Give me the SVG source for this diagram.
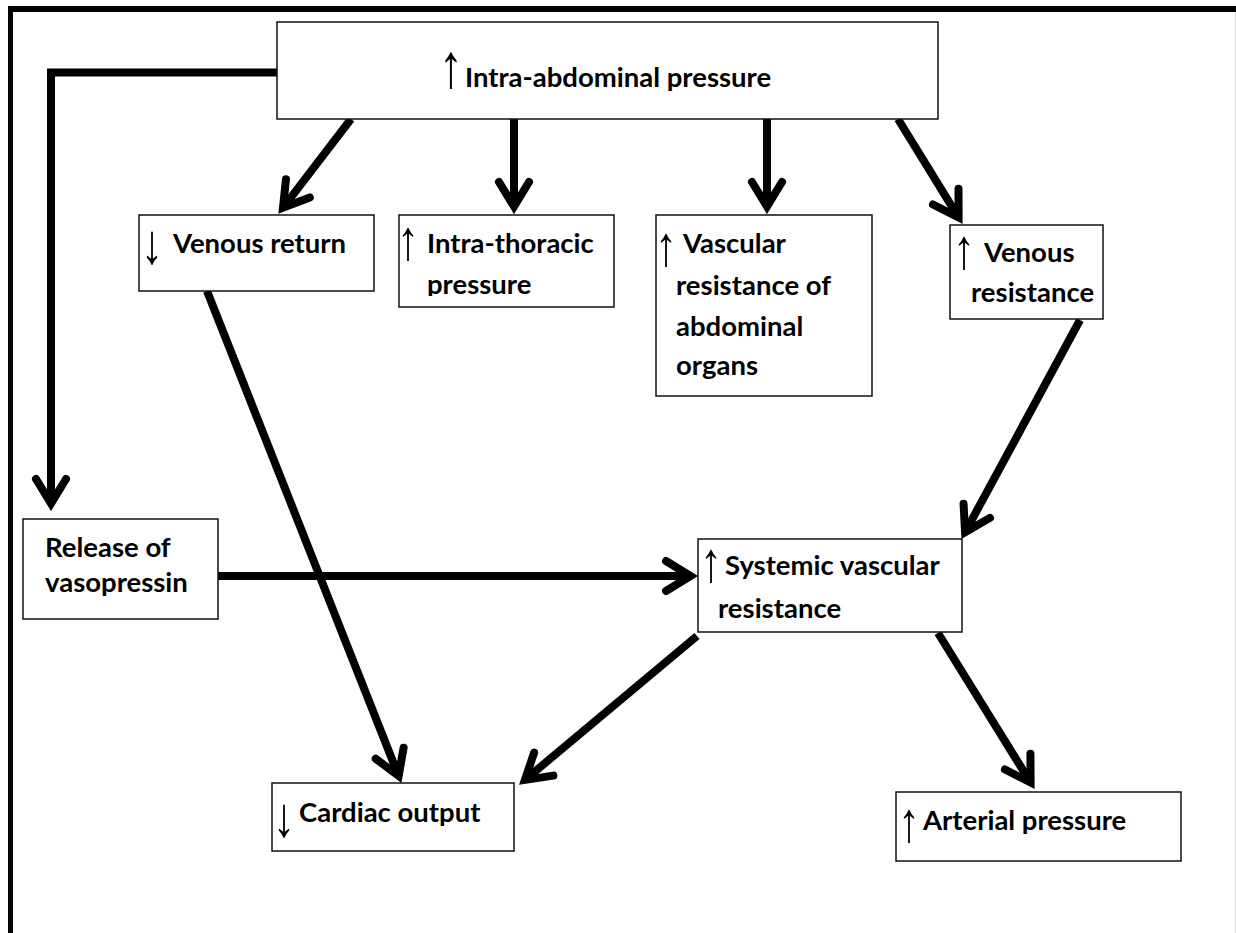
<svg xmlns="http://www.w3.org/2000/svg" width="1236" height="933" viewBox="0 0 1236 933">
<style>
.box{fill:#fff;stroke:#111;stroke-width:1.5}
.t{font-family:Lato,"Liberation Sans",sans-serif;font-weight:bold;font-size:27.5px;fill:#000}
.s{font-family:"Liberation Sans","DejaVu Sans",sans-serif;font-weight:normal;font-size:40px;fill:#000}
.c{fill:none;stroke:#000;stroke-width:8;marker-end:url(#ah)}
</style>
<defs>
<marker id="ah" markerUnits="userSpaceOnUse" orient="auto" overflow="visible" refX="0" refY="0" markerWidth="1" markerHeight="1">
<path d="M -23 -15 L 1.5 0 L -23 15" fill="none" stroke="#000" stroke-width="8" stroke-linecap="round" stroke-linejoin="miter" stroke-miterlimit="10"/>
</marker>
<clipPath id="clipIT"><rect x="399" y="215" width="216" height="81"/></clipPath>
</defs>
<rect x="0" y="0" width="1236" height="933" fill="#fff"/>
<g id="frame">
<rect x="8" y="6" width="1228" height="6" fill="#000"/>
<rect x="8" y="6" width="5" height="927" fill="#000"/>
<rect x="1235" y="12" width="1" height="921" fill="#d8d8d8"/>
</g>
<g id="connectors">
<polyline class="c" points="277,72.5 51,72.5 51,502" stroke-linejoin="miter"/>
<line class="c" x1="351" y1="119" x2="283.9" y2="206.6"/>
<line class="c" x1="514" y1="119" x2="514" y2="205"/>
<line class="c" x1="767" y1="119" x2="767" y2="205"/>
<line class="c" x1="898" y1="119" x2="957.8" y2="216.2"/>
<line class="c" x1="207" y1="291" x2="398.1" y2="774.6"/>
<line class="c" x1="218" y1="576" x2="689" y2="576"/>
<line class="c" x1="1080" y1="320" x2="965.8" y2="531"/>
<line class="c" x1="697" y1="636" x2="526.1" y2="778.9"/>
<line class="c" x1="938" y1="633" x2="1029.8" y2="781.2"/>
</g>
<g id="n-iap">
<rect class="box" x="277" y="22" width="661" height="97"/>
<text class="s" transform="translate(439,87) scale(1.2,1.55)">↑</text>
<text class="t" x="465" y="87" font-size="28.5">Intra-abdominal pressure</text>
</g>
<g id="n-vr">
<rect class="box" x="139" y="215" width="235" height="76"/>
<text class="s" transform="translate(141,263) scale(1.1,1.4)">↓</text>
<text class="t" x="173" y="253">Venous return</text>
</g>
<g id="n-itp">
<rect class="box" x="399" y="215" width="215" height="92"/>
<text class="s" transform="translate(397,259) scale(1.1,1.4)">↑</text>
<text class="t" x="427" y="253">Intra-thoracic</text>
<text class="t" x="427" y="293.5" clip-path="url(#clipIT)">pressure</text>
</g>
<g id="n-vra">
<rect class="box" x="656" y="215" width="216" height="181"/>
<text class="s" transform="translate(655,265) scale(1.1,1.4)">↑</text>
<text class="t" x="683" y="253">Vascular</text>
<text class="t" x="676" y="294.5">resistance of</text>
<text class="t" x="676" y="335.5">abdominal</text>
<text class="t" x="676" y="375">organs</text>
</g>
<g id="n-vres">
<rect class="box" x="950" y="225" width="153" height="94"/>
<text class="s" transform="translate(953,268) scale(1.1,1.4)">↑</text>
<text class="t" x="984" y="262">Venous</text>
<text class="t" x="971" y="302">resistance</text>
</g>
<g id="n-vaso">
<rect class="box" x="23" y="519" width="195" height="100"/>
<text class="t" x="45" y="557">Release of</text>
<text class="t" x="45" y="592">vasopressin</text>
</g>
<g id="n-svr">
<rect class="box" x="698" y="539" width="264" height="93"/>
<text class="s" transform="translate(700,581) scale(1.1,1.4)">↑</text>
<text class="t" x="725" y="575">Systemic vascular</text>
<text class="t" x="718" y="618">resistance</text>
</g>
<g id="n-co">
<rect class="box" x="272" y="783" width="242" height="68"/>
<text class="s" transform="translate(273,836) scale(1.1,1.4)">↓</text>
<text class="t" x="299" y="822">Cardiac output</text>
</g>
<g id="n-ap">
<rect class="box" x="896" y="792" width="285" height="69"/>
<text class="s" transform="translate(898,841) scale(1.1,1.4)">↑</text>
<text class="t" x="923" y="830">Arterial pressure</text>
</g>
</svg>
